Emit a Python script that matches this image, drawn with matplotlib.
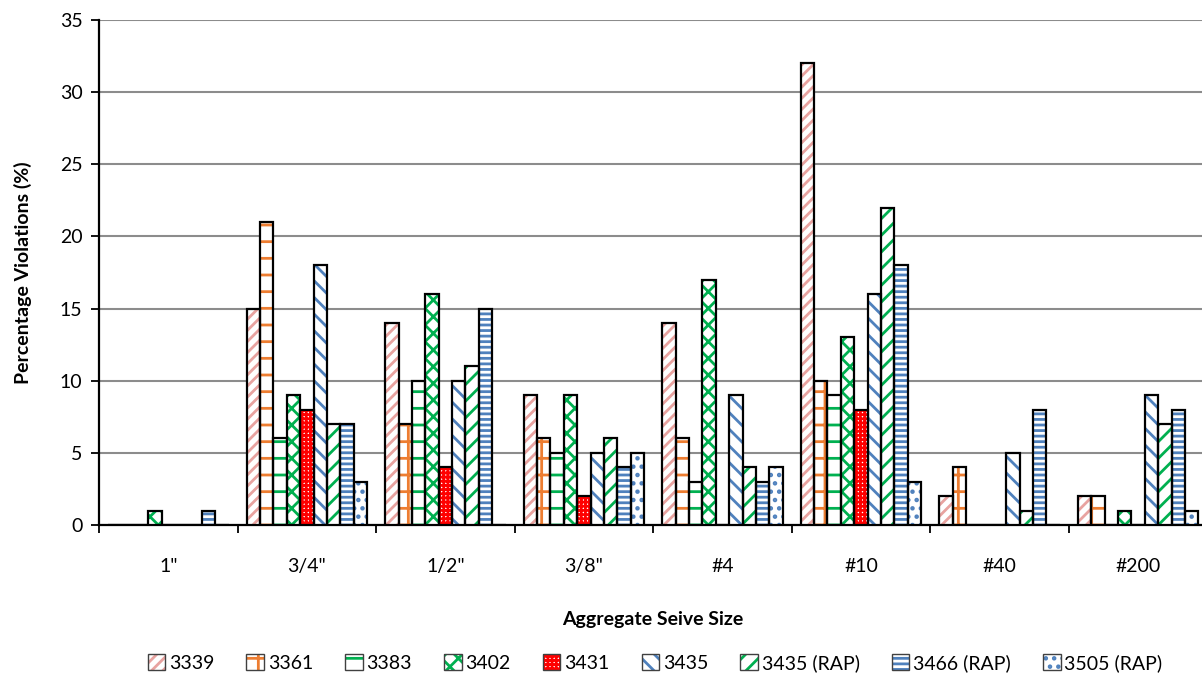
import matplotlib
matplotlib.use('Agg')
import matplotlib.pyplot as plt
from matplotlib.patches import Patch
import numpy as np

# Sieve sizes and the projects compared on each one
sieves = ['1"', '3/4"', '1/2"', '3/8"', '#4', '#10', '#40', '#200']
projects = ['3339', '3361', '3383', '3402', '3431', '3435', '3435 (RAP)', '3466 (RAP)', '3505 (RAP)']

# Percentage of violations per project, listed in sieve order
v3339 = [0, 15, 14, 9, 14, 32, 2, 2]
v3361 = [0, 21, 7, 6, 6, 10, 4, 2]
v3383 = [0, 6, 10, 5, 3, 9, 0, 0]
v3402 = [1, 9, 16, 9, 17, 13, 0, 1]
v3431 = [0, 8, 4, 2, 0, 8, 0, 0]
v3435 = [0, 18, 10, 5, 9, 16, 5, 9]
v3435_rap = [0, 7, 11, 6, 4, 22, 1, 7]
v3466_rap = [1, 7, 15, 4, 3, 18, 8, 8]
v3505_rap = [0, 3, 0, 5, 4, 3, 0, 1]

series = [v3339, v3361, v3383, v3402, v3431, v3435, v3435_rap, v3466_rap, v3505_rap]

# pattern colour and hatch for each project
colors = ['#E8A3A0', '#ED7D31', '#00B050', '#00B050', '#FF0000',
          '#4F81BD', '#00B050', '#4F81BD', '#4F81BD']
hatches = ['///', '+', '-', 'xx', '++++', '\\\\', '//', '---', '..']

plt.rcParams['font.family'] = ['Lato', 'DejaVu Sans']
plt.rcParams['hatch.linewidth'] = 2.0

fig = plt.figure(figsize=(12.02, 6.75), dpi=100)
ax = fig.add_axes([0.0824, 0.2222, 0.922, 0.7482])

x = np.arange(len(sieves))
n = len(series)
width = 0.87 / n

handles = []
for i, vals in enumerate(series):
    pos = x - 0.435 + width * (i + 0.5)
    ax.bar(pos, vals, width, color='white', edgecolor=colors[i],
           hatch=hatches[i], linewidth=0, zorder=3)
    ax.bar(pos, vals, width, fill=False, edgecolor='black',
           linewidth=1.6, zorder=4)
    hp = Patch(facecolor='white', edgecolor=colors[i], hatch=hatches[i], linewidth=0)
    op = Patch(fill=False, edgecolor='#404040', linewidth=1.0)
    handles.append((hp, op))

ax.set_xlim(-0.5, len(sieves) - 0.5)
ax.set_ylim(0, 35)
ax.set_yticks(np.arange(0, 36, 5))
ax.yaxis.grid(True, color='#8C8C8C', linewidth=1.5, zorder=0)
ax.set_axisbelow(True)

ax.set_xticks(x)
ax.set_xticklabels(sieves)
ax.set_xticks(np.arange(-0.5, len(sieves), 1), minor=True)
ax.tick_params(axis='x', which='major', length=0, pad=24, labelsize=14)
ax.tick_params(axis='x', which='minor', length=6, width=1.3, direction='out')
ax.tick_params(axis='y', length=6, width=1.3, labelsize=14, pad=6)

for side in ['top', 'right']:
    ax.spines[side].set_visible(False)
for side in ['left', 'bottom']:
    ax.spines[side].set_linewidth(1.6)

ax.set_ylabel('Percentage Violations (%)', fontsize=14, fontweight='bold', labelpad=20)
ax.set_xlabel('Aggregate Seive Size', fontsize=14, fontweight='bold', labelpad=26)

fig.legend(handles, projects, loc='center', bbox_to_anchor=(0.545, 0.018),
           ncol=9, frameon=False, fontsize=14, handlelength=0.9, handleheight=0.9,
           handletextpad=0.2, columnspacing=1.65)

fig.savefig('out.png', dpi=100)
